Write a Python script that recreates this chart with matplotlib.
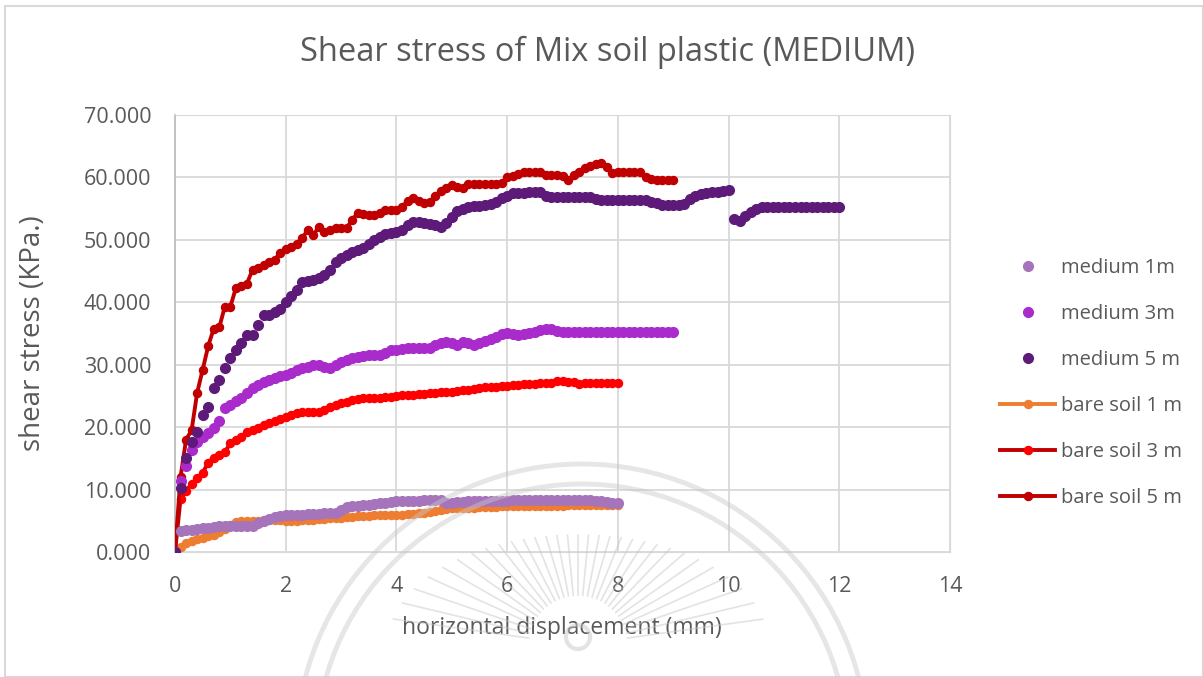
import numpy as np
import matplotlib
matplotlib.use("Agg")
import matplotlib.pyplot as plt
from matplotlib.patches import Arc, Rectangle, Circle

plt.rcParams['font.family'] = ['Open Sans', 'DejaVu Sans']

# displacement step of the readings (mm)
step = 0.1

# shear stress (kPa) read every 0.1 mm
medium_1m = [0, 3.4, 3.5, 3.6, 3.7, 3.8, 3.9, 4.0, 4.1, 4.1,
             4.1, 4.1, 4.1, 4.2, 4.2, 4.6, 5.0, 5.3, 5.6, 5.8,
             5.9, 5.9, 6.0, 6.0, 6.1, 6.1, 6.1, 6.2, 6.2, 6.3,
             6.8, 7.2, 7.3, 7.4, 7.5, 7.6, 7.7, 7.8, 7.9, 8.0,
             8.1, 8.1, 8.2, 8.2, 8.2, 8.3, 8.3, 8.3, 8.3, 7.9,
             7.9, 8.0, 8.0, 8.1, 8.1, 8.1, 8.2, 8.2, 8.2, 8.2,
             8.2, 8.3, 8.3, 8.3, 8.3, 8.3, 8.3, 8.3, 8.3, 8.3,
             8.3, 8.3, 8.3, 8.3, 8.3, 8.3, 8.2, 8.1, 8.0, 7.9,
             7.8]

medium_3m = [0, 11.3, 13.7, 16.3, 17.7, 18.5, 19.0, 19.8, 21.0, 23.0,
             23.6, 24.2, 24.7, 25.5, 26.2, 26.8, 27.2, 27.6, 27.9, 28.2,
             28.4, 28.7, 29.1, 29.4, 29.7, 30.0, 29.9, 29.7, 29.4, 29.9,
             30.5, 30.8, 31.1, 31.3, 31.4, 31.5, 31.6, 31.6, 31.9, 32.3,
             32.4, 32.5, 32.6, 32.6, 32.6, 32.6, 32.7, 33.1, 33.5, 33.7,
             33.4, 33.2, 33.7, 33.4, 33.2, 33.5, 33.8, 34.1, 34.5, 34.9,
             35.1, 34.9, 34.8, 34.9, 35.1, 35.3, 35.5, 35.7, 35.8, 35.4,
             35.3, 35.3, 35.3, 35.3, 35.3, 35.3, 35.3, 35.3, 35.3, 35.3,
             35.3, 35.3, 35.3, 35.3, 35.3, 35.3, 35.3, 35.3, 35.3, 35.3,
             35.3]

medium_5m = [0, 10.2, 15.0, 17.7, 19.3, 21.9, 23.3, 26.2, 27.5, 29.4,
             31.0, 32.4, 33.5, 34.8, 34.8, 36.4, 38.0, 38.0, 38.5, 39.0,
             40.0, 41.0, 42.0, 43.3, 43.4, 43.5, 43.9, 44.4, 45.2, 46.4,
             47.1, 47.6, 48.1, 48.4, 48.7, 49.3, 50.0, 50.5, 50.9, 51.1,
             51.2, 51.6, 52.3, 52.9, 52.8, 52.7, 52.6, 52.4, 52.1, 52.7,
             53.6, 54.6, 55.0, 55.3, 55.4, 55.4, 55.6, 55.7, 56.1, 56.7,
             57.1, 57.5, 57.5, 57.5, 57.6, 57.6, 57.6, 57.0, 56.9, 56.9,
             56.9, 56.9, 56.9, 56.9, 56.9, 56.9, 56.6, 56.4, 56.4, 56.4,
             56.4, 56.4, 56.4, 56.4, 56.4, 56.4, 56.1, 55.9, 55.6, 55.6,
             55.6, 55.6, 55.8, 56.5, 57.1, 57.3, 57.5, 57.6, 57.7, 57.8,
             58.0, 53.4, 53.0, 53.8, 54.5, 54.9, 55.2, 55.3, 55.3, 55.3,
             55.3, 55.3, 55.3, 55.3, 55.3, 55.3, 55.3, 55.3, 55.3, 55.3,
             55.3]

bare_1m = [0, 0.8, 1.4, 1.8, 2.1, 2.3, 2.5, 2.8, 3.2, 3.7,
           4.3, 4.8, 4.9, 4.9, 5.0, 5.0, 5.1, 5.1, 5.1, 5.1,
           5.0, 5.0, 5.0, 5.1, 5.2, 5.2, 5.3, 5.3, 5.4, 5.4,
           5.5, 5.6, 5.6, 5.7, 5.8, 5.8, 5.9, 5.9, 6.0, 6.0,
           6.0, 6.0, 6.1, 6.1, 6.2, 6.2, 6.4, 6.6, 6.8, 6.9,
           7.0, 7.0, 7.1, 7.1, 7.1, 7.2, 7.2, 7.2, 7.2, 7.3,
           7.3, 7.3, 7.3, 7.3, 7.3, 7.4, 7.4, 7.4, 7.4, 7.4,
           7.4, 7.5, 7.5, 7.5, 7.5, 7.5, 7.5, 7.5, 7.5, 7.5,
           7.5]

bare_3m = [0, 8.5, 9.8, 10.9, 11.8, 12.7, 14.3, 15.1, 15.5, 16.0,
           17.4, 17.9, 18.5, 19.3, 19.6, 19.9, 20.3, 20.6, 21.0, 21.3,
           21.7, 22.0, 22.2, 22.4, 22.5, 22.5, 22.5, 22.8, 23.2, 23.6,
           23.9, 24.1, 24.3, 24.5, 24.6, 24.7, 24.7, 24.7, 24.8, 24.9,
           25.0, 25.1, 25.1, 25.2, 25.3, 25.3, 25.4, 25.5, 25.6, 25.7,
           25.7, 25.8, 25.9, 25.9, 26.1, 26.3, 26.5, 26.5, 26.5, 26.6,
           26.6, 26.7, 26.8, 26.9, 26.9, 26.9, 27.0, 27.0, 27.1, 27.4,
           27.4, 27.3, 27.2, 26.9, 27.0, 27.1, 27.1, 27.1, 27.1, 27.1,
           27.1]

bare_5m = [0, 12.0, 18.0, 19.5, 25.5, 29.2, 33.0, 35.8, 36.0, 39.3,
           39.3, 42.3, 42.6, 43.0, 45.2, 45.5, 46.0, 46.4, 46.8, 47.9,
           48.5, 48.9, 49.3, 50.3, 51.6, 50.8, 52.1, 51.2, 51.6, 51.9,
           51.9, 51.9, 53.2, 54.3, 54.1, 54.0, 54.0, 54.3, 54.8, 54.8,
           54.8, 55.2, 56.3, 56.7, 56.3, 55.9, 56.1, 57.0, 57.8, 58.3,
           58.8, 58.5, 58.3, 59.0, 58.9, 58.9, 58.9, 58.9, 59.0, 59.1,
           60.0, 60.3, 60.6, 60.8, 60.8, 60.8, 60.8, 60.4, 60.4, 60.4,
           60.2, 59.6, 60.4, 60.8, 61.5, 61.8, 62.1, 62.3, 61.7, 60.7,
           60.8, 60.8, 60.8, 60.8, 60.8, 60.0, 59.7, 59.6, 59.6, 59.6,
           59.6]


def disp(vals):
    return np.arange(len(vals)) * step


W, H = 1203, 677
fig = plt.figure(figsize=(W / 100, H / 100), dpi=100)
ax = fig.add_axes([175 / W, 1 - 552 / H, 775 / W, 437 / H])

# bare soil lines (drawn below the scatter series)
ax.plot(disp(bare_1m), bare_1m, color='#ED7D31', lw=2.8, marker='o', ms=5.8,
        mfc='#ED7D31', mec='#ED7D31', label='bare soil 1 m', zorder=3)
ax.plot(disp(bare_3m), bare_3m, color='#C00000', lw=2.8, marker='o', ms=5.8,
        mfc='#FF0000', mec='#FF0000', label='bare soil 3 m', zorder=3)
ax.plot(disp(bare_5m), bare_5m, color='#C00000', lw=2.8, marker='o', ms=5.8,
        mfc='#C00000', mec='#C00000', label='bare soil 5 m', zorder=3)

ax.plot(disp(medium_1m), medium_1m, ls='none', marker='o', ms=7,
        color='#A674BA', label='medium 1m', zorder=4)
ax.plot(disp(medium_3m), medium_3m, ls='none', marker='o', ms=7,
        color='#AA2BCC', label='medium 3m', zorder=4)
ax.plot(disp(medium_5m), medium_5m, ls='none', marker='o', ms=7,
        color='#5E1A78', label='medium 5 m', zorder=4)

ax.set_xlim(0, 14)
ax.set_ylim(0, 70)
ax.set_xticks(np.arange(0, 15, 2))
ax.set_yticks(np.arange(0, 71, 10))
ax.set_yticklabels(['%.3f' % v for v in np.arange(0, 71, 10)])
ax.grid(True, color='#D9D9D9', lw=1.3)
ax.set_axisbelow(True)
for s in ['top', 'right', 'bottom']:
    ax.spines[s].set_color('#D9D9D9')
ax.spines['left'].set_color('#BFBFBF')
ax.spines['left'].set_linewidth(1.3)
ax.tick_params(length=0, labelsize=15.5, labelcolor='#595959')
ax.tick_params(axis='y', pad=17)
ax.tick_params(axis='x', pad=17)

fig.text(33 / W, 1 - 333 / H, 'shear stress (KPa.)', rotation=90,
         ha='center', va='center', fontsize=20, color='#595959')
fig.text(562 / W, 1 - 628 / H, 'horizontal displacement (mm)',
         ha='center', va='center', fontsize=16.5, color='#595959')
fig.text(607 / W, 1 - 52 / H, 'Shear stress of Mix soil plastic (MEDIUM)',
         ha='center', va='center', fontsize=23.5, color='#595959')

h, l = ax.get_legend_handles_labels()
order = [3, 4, 5, 0, 1, 2]
fig.legend([h[i] for i in order], [l[i] for i in order],
           loc='center left', bbox_to_anchor=(1000 / W, 1 - 383 / H),
           frameon=False, fontsize=14.5, labelcolor='#595959',
           handlelength=2.75, handletextpad=0.3, labelspacing=1.3,
           borderpad=0, borderaxespad=0)

# chart border
fig.patches.append(Rectangle((5 / W, 0), 1 - 5 / W, 1 - 6 / H,
                             transform=fig.transFigure, fill=False,
                             ec='#D9D9D9', lw=1.5))

# faint watermark seal
wm = fig.add_axes([0, 0, 1, 1], zorder=10)
wm.set_xlim(0, W)
wm.set_ylim(H, 0)
wm.axis('off')
cx, cy = 582, 750
for r in [286, 266]:
    wm.add_patch(Arc((cx, cy), 2 * r, 2 * r, theta1=0, theta2=360,
                     color='#C8C8C8', lw=3.5, alpha=0.45))
rx, ry = 578, 645
for ang in np.linspace(8, 172, 31):
    t = np.radians(ang)
    a, b = 190, 110
    rr = a * b / np.hypot(b * np.cos(t), a * np.sin(t))
    wm.plot([rx + 50 * np.cos(t), rx + rr * np.cos(t)],
            [ry - 50 * np.sin(t), ry - rr * np.sin(t)],
            color='#C8C8C8', lw=1.2, alpha=0.5)
wm.add_patch(Circle((rx, ry - 8), 12, fill=False, ec='#C8C8C8', lw=3,
                    alpha=0.5))

fig.savefig('out.png', dpi=100)
